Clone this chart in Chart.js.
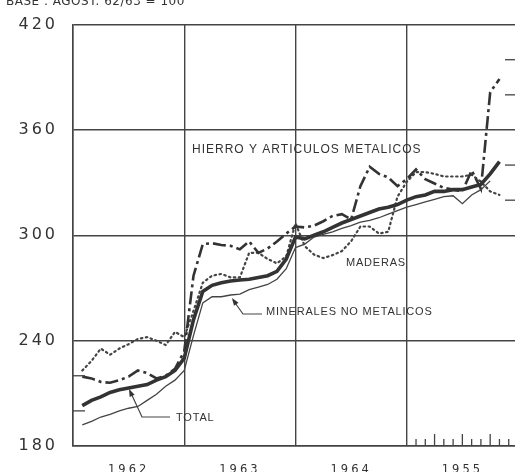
<!DOCTYPE html>
<html>
<head>
<meta charset="utf-8">
<script src="https://cdn.jsdelivr.net/npm/chart.js@4.4.1/dist/chart.umd.min.js"></script>
<style>
  html, body { margin: 0; padding: 0; background: #fff; overflow: hidden; }
  #wrap { width: 519px; height: 472px; }
</style>
</head>
<body>
<div id="wrap"><canvas id="indexChart" width="519" height="472"></canvas></div>
<script>
// months counted from Jan 1962 (0) to Dec 1965 (47)
const yearLabels = ["1962", "1963", "1964", "1955"];
const yearCenters = [6, 18, 30, 42];
const yTicks = [180, 240, 300, 360, 420];

const totalValues = [null, 203, 206, 208, 210.5, 212, 213, 214, 215, 217.5, 219.5, 223, 230, 252, 268, 271.5,
  273, 274, 274.5, 275, 276, 277, 279.5, 286.5, 299, 298, 300, 302, 304.5, 307, 309, 311, 313, 315, 316,
  317.5, 320, 322, 323, 325, 325, 326, 326, 327.5, 329, 335, 342];

const mineralesValues = [null, 192, 194, 196.5, 198, 200, 201.5, 202.5, 206, 209.5, 214, 217.5, 223, 243,
  261.5, 265, 265, 266, 266.5, 269, 270.5, 272, 275, 281, 293, 295, 299, 300.5, 302, 304, 305.5, 307.5,
  308.5, 310, 312, 314, 316, 317.5, 319, 320.5, 322, 322.5, 318, 323, 326, 331, null];

const hierroValues = [null, 219.5, 218.5, 216.5, 216, 217.5, 219.5, 223, 221.5, 218.5, 220, 224, 234, 277,
  295, 295.5, 294.5, 294, 292, 296.5, 290, 292.5, 296.5, 301, 305, 304.5, 305.5, 308, 311, 312, 309, 328,
  339, 335, 333, 328, 332, 337.5, 332, 329.5, 327, 326, 325, 337, 326.5, 381.5, 389];

const maderasValues = [null, 223, 228.5, 235.5, 232, 235.5, 238, 241, 242, 240, 237.5, 245, 242, 257, 273,
  277, 278, 276, 276, 290, 290, 286.5, 284, 288, 306.8, 293.8, 289, 287, 288.7, 291, 296.6, 305, 305, 301,
  302, 322, 330.5, 336, 336, 335, 333.5, 333.5, 333.5, 334.5, 330.5, 325, 323];

const toPoints = (values) => values.map((v, i) => ({ x: i, y: v }));

function arrowHead(ctx, tipX, tipY, fromX, fromY) {
  const a = Math.atan2(tipY - fromY, tipX - fromX);
  const len = 8;
  ctx.beginPath();
  ctx.moveTo(tipX, tipY);
  ctx.lineTo(tipX - len * Math.cos(a - 0.35), tipY - len * Math.sin(a - 0.35));
  ctx.lineTo(tipX - len * Math.cos(a + 0.35), tipY - len * Math.sin(a + 0.35));
  ctx.closePath();
  ctx.fill();
}

const decorations = {
  id: "decorations",
  beforeDraw(chart) {
    chart.ctx.letterSpacing = "3px";
  },
  afterDraw(chart) {
    const ctx = chart.ctx;
    const x = chart.scales.x;
    const y = chart.scales.y;
    ctx.save();
    ctx.strokeStyle = "#444";
    ctx.lineWidth = 1.3;

    // short inner ticks on the left and right frame
    [200, 220].forEach((v) => {
      ctx.beginPath();
      ctx.moveTo(x.left, y.getPixelForValue(v));
      ctx.lineTo(x.left + 12, y.getPixelForValue(v));
      ctx.stroke();
    });
    [320, 340, 380, 400].forEach((v) => {
      ctx.beginPath();
      ctx.moveTo(x.right - 13, y.getPixelForValue(v));
      ctx.lineTo(x.right, y.getPixelForValue(v));
      ctx.stroke();
    });

    // monthly ticks along the bottom in the last year
    for (let m = 37; m <= 47; m++) {
      const px = x.getPixelForValue(m);
      const h = (m - 36) % 3 === 0 ? 12 : 7;
      ctx.beginPath();
      ctx.moveTo(px, y.bottom);
      ctx.lineTo(px, y.bottom - h);
      ctx.stroke();
    }

    // callouts
    ctx.lineWidth = 1.2;
    ctx.beginPath();
    ctx.moveTo(233, 300);
    ctx.lineTo(243, 314);
    ctx.lineTo(262, 314);
    ctx.moveTo(130, 391);
    ctx.lineTo(142, 417);
    ctx.lineTo(170, 417);
    ctx.stroke();
    ctx.fillStyle = "#333";
    arrowHead(ctx, 232, 298, 243, 314);
    arrowHead(ctx, 129, 389, 142, 417);

    // series labels
    ctx.letterSpacing = "0.8px";
    ctx.font = "11px 'Liberation Sans'";
    ctx.textBaseline = "middle";
    ctx.fillStyle = "#333";
    ctx.fillText("MADERAS", 346, 263);
    ctx.fillText("MINERALES NO METALICOS", 266, 312);
    ctx.fillText("TOTAL", 176, 418);
    ctx.letterSpacing = "1px";
    ctx.font = "12px 'Liberation Sans'";
    ctx.fillText("HIERRO Y ARTICULOS METALICOS", 192, 150);

    // header, cut off at the top edge
    ctx.letterSpacing = "0.5px";
    ctx.font = "12px 'DejaVu Sans'";
    ctx.textBaseline = "alphabetic";
    ctx.fillText("BASE : AGOST. 62/63 = 100", 6, 5);
    ctx.restore();
  },
};

const ctx = document.querySelector("#indexChart").getContext("2d");

const indexChart = new Chart(ctx, {
  type: "line",
  data: {
    datasets: [
      {
        label: "TOTAL",
        data: toPoints(totalValues),
        borderColor: "#333",
        borderWidth: 3.6,
      },
      {
        label: "MINERALES NO METALICOS",
        data: toPoints(mineralesValues),
        borderColor: "#444",
        borderWidth: 1.3,
      },
      {
        label: "HIERRO Y ARTICULOS METALICOS",
        data: toPoints(hierroValues),
        borderColor: "#333",
        borderWidth: 2.6,
        borderDash: [13, 4, 3, 4],
      },
      {
        label: "MADERAS",
        data: toPoints(maderasValues),
        borderColor: "#444",
        borderWidth: 2.2,
        borderDash: [1.5, 3.5],
        borderCapStyle: "round",
      },
    ],
  },
  options: {
    responsive: false,
    animation: false,
    elements: {
      point: { radius: 0 },
      line: { tension: 0, fill: false },
    },
    layout: {
      padding: { top: 22, right: 1, bottom: 0, left: 0 },
    },
    plugins: {
      legend: { display: false },
      tooltip: { enabled: false },
      title: { display: false },
    },
    scales: {
      x: {
        type: "linear",
        min: 0,
        max: 48,
        weight: 0,
        ticks: { stepSize: 12, display: false },
        grid: { color: "#444", lineWidth: 1.4, drawTicks: false },
        border: { color: "#444", width: 1.5 },
        afterFit: (scale) => {
          scale.height = 0;
        },
      },
      x2: {
        type: "linear",
        position: "bottom",
        min: 0,
        max: 48,
        weight: 1,
        afterBuildTicks: (scale) => {
          scale.ticks = yearCenters.map((v) => ({ value: v }));
        },
        ticks: {
          autoSkip: false,
          maxRotation: 0,
          padding: 9,
          color: "#333",
          font: { family: "DejaVu Sans", size: 11.5 },
          callback: (value, index) => yearLabels[index],
        },
        grid: { display: false },
        border: { display: false },
        afterFit: (scale) => {
          scale.height = 26;
        },
      },
      y: {
        min: 180,
        max: 420,
        afterBuildTicks: (scale) => {
          scale.ticks = yTicks.map((v) => ({ value: v }));
        },
        ticks: {
          padding: 15,
          color: "#333",
          font: { family: "DejaVu Sans", size: 16 },
        },
        grid: { color: "#444", lineWidth: 1.4, drawTicks: false },
        border: { color: "#444", width: 1.5 },
        afterFit: (scale) => {
          scale.width = 73;
        },
      },
    },
  },
  plugins: [decorations],
});
</script>
</body>
</html>
